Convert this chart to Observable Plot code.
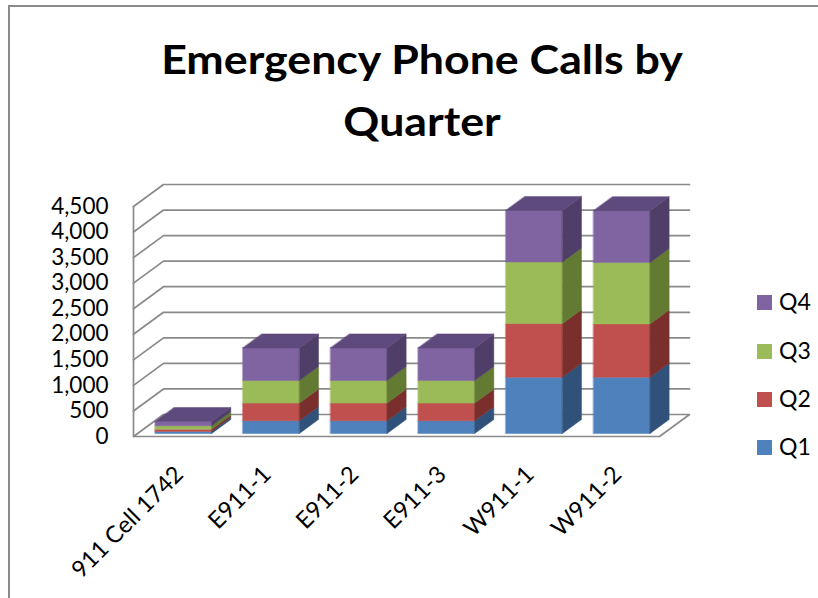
<!DOCTYPE html>
<html><head><meta charset="utf-8">
<script src="https://cdn.jsdelivr.net/npm/d3@7"></script>
<script src="https://cdn.jsdelivr.net/npm/@observablehq/plot@0.6"></script>
<style>
body{margin:0;background:#fff;}
#wrap{position:relative;width:818px;height:598px;overflow:hidden;background:#fff;font-family:Lato,sans-serif;}
.bt{position:absolute;left:8px;top:5px;right:0;height:2px;background:#8a8a8a;}
.bl{position:absolute;left:8px;top:5px;bottom:0;width:2px;background:#8a8a8a;}
.tl{position:absolute;left:0;width:844px;text-align:center;font-weight:700;font-size:41px;line-height:41px;color:#000;white-space:nowrap;transform:scaleX(1.09);transform-origin:422px 0;}
#chart{position:absolute;left:0;top:0;}
.lg{position:absolute;left:757px;width:15px;height:15px;}
.lt{position:absolute;left:779px;font-size:23px;line-height:23px;color:#000;}
</style></head>
<body>
<div id="wrap">
  <div class="bt"></div><div class="bl"></div>
  <div id="chart"></div>
  <div class="tl" style="top:38px">Emergency Phone Calls by</div>
  <div class="tl" style="top:100px">Quarter</div>
  <div id="legend"></div>
</div>
<script>
// ---- data ----
const categories = ["911 Cell 1742", "E911-1", "E911-2", "E911-3", "W911-1", "W911-2"];
const quarters = ["Q1", "Q2", "Q3", "Q4"];
const q1 = [40, 250, 250, 250, 1100, 1100];
const q2 = [45, 345, 345, 345, 1050, 1045];
const q3 = [65, 440, 440, 440, 1205, 1200];
const q4 = [85, 640, 640, 640, 1010, 1015];
const yTicks = [0, 500, 1000, 1500, 2000, 2500, 3000, 3500, 4000, 4500];
const frontColors = ["#4F81BD", "#C0504D", "#9BBB59", "#8064A2"];
const sideColors  = ["#30527A", "#7A2F2D", "#627A31", "#4F3E68"];
const topColors   = ["#3B6395", "#963E3B", "#7A9446", "#5F4A7E"];
const legendTop = [302, 351, 399, 447];

// ---- geometry (pixels -> data units) ----
const W = 818, H = 598, mL = 133, mR = 159, mT = 206, mB = 162;
const nCat = categories.length, yMax = 4500;
const kx = nCat / (W - mL - mR), ky = yMax / (H - mT - mB);
const floorDX = 30 * kx, floorDY = 22 * ky;
const barW = 0.646, barOff = 0.136, barDepth = 0.636;

const series = [q1, q2, q3, q4];
const polys = [];
let pid = 0;
categories.forEach((c, i) => {
  const xl = i + 0.5 - barW / 2 + barOff * floorDX + 2 * kx;
  const xr = xl + barW;
  const oy = barOff * floorDY;
  const bx = barDepth * floorDX, by = barDepth * floorDY;
  let base = 0;
  series.forEach((s, q) => {
    const y0 = base + oy, y1 = base + s[i] + oy;
    base += s[i];
    const f = `f${pid++}`;
    [[xl, y0], [xr, y0], [xr, y1], [xl, y1]].forEach(([x, y]) => polys.push({id: f, x, y, fill: frontColors[q]}));
    const sd = `s${pid++}`;
    [[xr, y0], [xr + bx, y0 + by], [xr + bx, y1 + by], [xr, y1]].forEach(([x, y]) => polys.push({id: sd, x, y, fill: sideColors[q]}));
    if (q === series.length - 1) {
      const t = `t${pid++}`;
      [[xl, y1], [xr, y1], [xr + bx, y1 + by], [xl + bx, y1 + by]].forEach(([x, y]) => polys.push({id: t, x, y, fill: topColors[q]}));
    }
  });
});

// gridlines: side wall diagonal + back wall horizontal
const grid = [];
yTicks.forEach(v => {
  const g = `g${v}`;
  grid.push({id: g, x: 0, y: v});
  grid.push({id: g, x: floorDX, y: v + floorDY});
  grid.push({id: g, x: nCat + floorDX, y: v + floorDY});
  if (v === 0) {
    grid.push({id: g, x: nCat, y: 0});
    grid.push({id: g, x: 0, y: 0});
  }
});

const labels = categories.map((c, i) => ({c, x: i + 0.5}));

const chart = Plot.plot({
  width: W, height: H,
  marginLeft: mL, marginRight: mR, marginTop: mT, marginBottom: mB,
  style: {fontFamily: "Lato, sans-serif", fontSize: "22px", background: "transparent", overflow: "visible"},
  x: {domain: [0, nCat], axis: null},
  y: {domain: [0, yMax], label: null},
  color: {type: "identity"},
  marks: [
    Plot.line(grid, {x: "x", y: "y", z: "id", stroke: "#8a8a8a", strokeWidth: 1.7}),
    Plot.ruleX([0], {y1: 0, y2: yMax, stroke: "#8a8a8a", strokeWidth: 1.7}),
    Plot.line(polys, {x: "x", y: "y", z: "id", fill: "fill", stroke: "fill", strokeWidth: 0.5, curve: "linear-closed"}),
    Plot.axisY(yTicks, {tickSize: 0, tickPadding: 25, tickFormat: d3.format(","), fontSize: 22.5, label: null}),
    Plot.text(labels, {x: "x", y: 0, text: "c", rotate: -45, textAnchor: "end", dy: 34, dx: 2, fontSize: 23.5, fill: "#000"})
  ]
});
document.getElementById("chart").appendChild(chart);

// legend, Q4 at top down to Q1
const lg = document.getElementById("legend");
quarters.forEach((q, i) => {
  const idx = quarters.length - 1 - i;
  const s = document.createElement("div");
  s.className = "lg"; s.style.top = (legendTop[idx] - 7.5) + "px"; s.style.background = frontColors[i];
  const t = document.createElement("div");
  t.className = "lt"; t.style.top = (legendTop[idx] - 12) + "px"; t.textContent = q;
  lg.appendChild(s); lg.appendChild(t);
});
</script>
</body></html>
